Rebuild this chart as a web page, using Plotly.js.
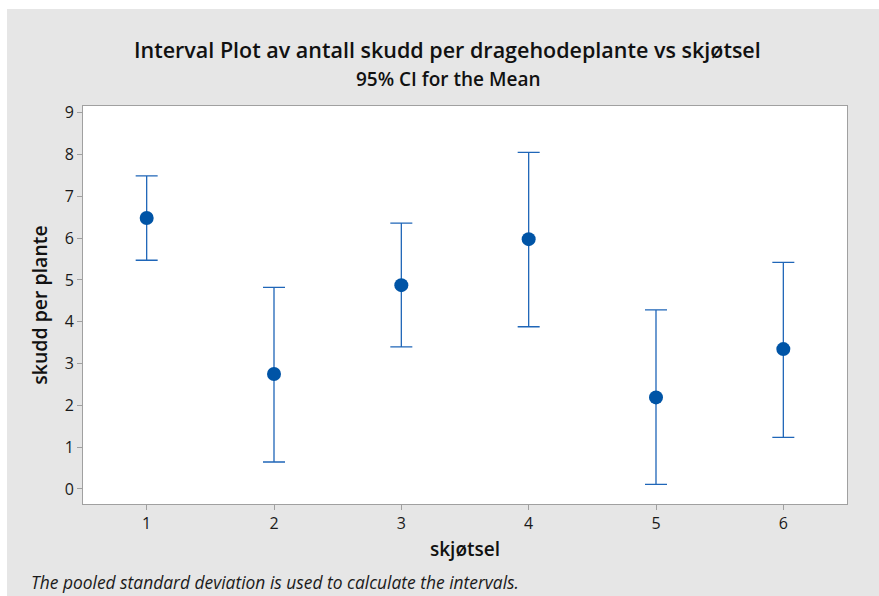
<!DOCTYPE html>
<html>
<head>
<meta charset="utf-8">
<script src="https://cdn.plot.ly/plotly-3.0.1.min.js"></script>
<style>
  html, body { margin: 0; padding: 0; background: #ffffff; width: 879px; height: 596px; overflow: hidden; }
  #chart { position: absolute; left: 7px; top: 9px; width: 872px; height: 587px; }
</style>
</head>
<body>
<div id="chart"></div>
<script>
// Data
const groups = [1, 2, 3, 4, 5, 6];
const tickLabels = ["1", "2", "3", "4", "5", "6"];
const means = [6.48, 2.75, 4.875, 5.975, 2.19, 3.345];
const upperCI = [7.49, 4.82, 6.36, 8.05, 4.285, 5.42];
const lowerCI = [5.47, 0.645, 3.40, 3.88, 0.11, 1.235];

const errPlus = upperCI.map((u, i) => u - means[i]);
const errMinus = lowerCI.map((l, i) => means[i] - l);

const font = '"Open Sans", "Noto Sans", sans-serif';

const trace = {
  type: 'scatter',
  mode: 'markers',
  x: groups,
  y: means,
  marker: { color: '#0054a6', size: 14 },
  error_y: {
    type: 'data',
    symmetric: false,
    array: errPlus,
    arrayminus: errMinus,
    color: '#1f66b8',
    thickness: 1.3,
    width: 11
  },
  hoverinfo: 'x+y',
  showlegend: false
};

const layout = {
  width: 872,
  height: 587,
  paper_bgcolor: '#e6e6e6',
  plot_bgcolor: '#ffffff',
  margin: { l: 76, r: 32, t: 97, b: 92 },
  font: { family: font, color: '#1a1a1a' },
  title: {
    text: 'Interval Plot av antall skudd per dragehodeplante vs skjøtsel',
    font: { family: font, size: 21.5, weight: 600, color: '#111111' },
    xref: 'container', x: 0.505, xanchor: 'center',
    yref: 'container', y: 0.93, yanchor: 'middle'
  },
  xaxis: {
    range: [0.5, 6.5],
    tickmode: 'array',
    tickvals: groups,
    ticktext: tickLabels,
    ticks: 'outside', ticklen: 5, tickcolor: '#a0a0a0', tickwidth: 1,
    showgrid: false, zeroline: false,
    showline: true, linecolor: '#a0a0a0', linewidth: 1, mirror: true,
    tickfont: { family: font, size: 16, color: '#1a1a1a' },
    title: { text: 'skjøtsel', font: { family: font, size: 19, weight: 600, color: '#111111' }, standoff: 9 }
  },
  yaxis: {
    range: [-0.36, 9.16],
    tickmode: 'array',
    tickvals: [0, 1, 2, 3, 4, 5, 6, 7, 8, 9],
    ticks: 'outside', ticklen: 5, tickcolor: '#a0a0a0', tickwidth: 1,
    showgrid: false, zeroline: false,
    showline: true, linecolor: '#a0a0a0', linewidth: 1, mirror: true,
    tickfont: { family: font, size: 16, color: '#1a1a1a' },
    title: { text: 'skudd per plante', font: { family: font, size: 19.5, weight: 600, color: '#111111' }, standoff: 11 }
  },
  annotations: [
    {
      text: '95% CI for the Mean',
      xref: 'paper', yref: 'paper', x: 0.478, y: 1.068,
      xanchor: 'center', yanchor: 'middle', showarrow: false,
      font: { family: font, size: 19, weight: 600, color: '#111111' }
    },
    {
      text: '<i>The pooled standard deviation is used to calculate the intervals.</i>',
      xref: 'paper', yref: 'paper', x: -0.0707, y: -0.195,
      xanchor: 'left', yanchor: 'middle', showarrow: false,
      font: { family: font, size: 17.4, color: '#1a1a1a' }
    }
  ]
};

Plotly.newPlot('chart', [trace], layout, { displayModeBar: false, responsive: false });
</script>
</body>
</html>
